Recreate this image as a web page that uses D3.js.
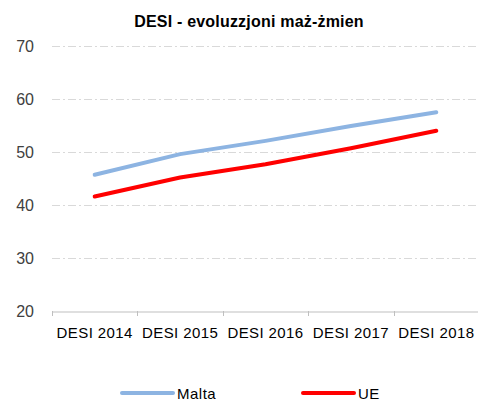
<!DOCTYPE html>
<html>
<head>
<meta charset="utf-8">
<script src="https://cdn.jsdelivr.net/npm/d3@7"></script>
<style>
  body { margin: 0; background: #fff; }
  svg { display: block; font-family: "Liberation Sans", Arial, sans-serif; }
</style>
</head>
<body>
<svg width="478" height="401"></svg>
<script>
const years = ["DESI 2014", "DESI 2015", "DESI 2016", "DESI 2017", "DESI 2018"];
const malta = [45.7, 49.6, 52.1, 54.9, 57.5];
const ue = [41.6, 45.2, 47.7, 50.7, 54.0];
const yTicks = [20, 30, 40, 50, 60, 70];

const series = [
  { name: "Malta", values: malta, color: "#8db4e2" },
  { name: "UE", values: ue, color: "#ff0000" }
];

const svg = d3.select("svg");
const plot = { left: 52, right: 479, top: 46, bottom: 311 };

const x = d3.scaleBand().domain(years).range([plot.left, plot.right]);
const y = d3.scaleLinear().domain([20, 70]).range([plot.bottom, plot.top]);

// title
svg.append("text")
  .attr("x", 249)
  .attr("y", 27)
  .attr("text-anchor", "middle")
  .attr("font-size", "16px")
  .attr("font-weight", "bold")
  .attr("letter-spacing", "0.2px")
  .attr("fill", "#000")
  .text("DESI - evoluzzjoni maż-żmien");

// gridlines
svg.append("g")
  .selectAll("line")
  .data(yTicks.filter(d => d > 20))
  .enter()
  .append("line")
  .attr("x1", plot.left)
  .attr("x2", plot.right)
  .attr("y1", d => y(d) + 0.5)
  .attr("y2", d => y(d) + 0.5)
  .attr("stroke", "#d9d9d9")
  .attr("stroke-width", 1)
  .attr("stroke-dasharray", "8,3,2,3");

// y axis labels
const yAxis = svg.append("g")
  .attr("transform", `translate(${plot.left}, 0)`)
  .call(d3.axisLeft(y).tickValues(yTicks).tickSize(0).tickPadding(18));
yAxis.select(".domain").remove();
yAxis.selectAll("text")
  .attr("font-size", "16px")
  .attr("font-family", "Liberation Sans, Arial, sans-serif")
  .attr("fill", "#404040");

// x axis
const xAxis = svg.append("g")
  .attr("transform", `translate(0, ${plot.bottom + 0.5})`)
  .call(d3.axisBottom(x).tickSize(0).tickPadding(16));
xAxis.select(".domain").attr("stroke", "#bfbfbf");
xAxis.selectAll("text")
  .attr("font-size", "15px")
  .attr("letter-spacing", "0.4px")
  .attr("font-family", "Liberation Sans, Arial, sans-serif")
  .attr("fill", "#000");

// band boundary ticks
svg.append("g")
  .selectAll("line")
  .data(years)
  .enter()
  .append("line")
  .attr("x1", d => Math.round(x(d)) + 0.5)
  .attr("x2", d => Math.round(x(d)) + 0.5)
  .attr("y1", plot.bottom)
  .attr("y2", plot.bottom + 5)
  .attr("stroke", "#bfbfbf");

// lines
const line = d3.line()
  .x((d, i) => x(years[i]) + x.bandwidth() / 2)
  .y(d => y(d));

svg.append("g")
  .selectAll("path")
  .data(series)
  .enter()
  .append("path")
  .attr("d", d => line(d.values))
  .attr("fill", "none")
  .attr("stroke", d => d.color)
  .attr("stroke-width", 4)
  .attr("stroke-linecap", "round")
  .attr("stroke-linejoin", "round");

// legend
const legendX = [122, 303];
const legend = svg.append("g")
  .selectAll("g")
  .data(series)
  .enter()
  .append("g")
  .attr("transform", (d, i) => `translate(${legendX[i]}, 393)`);

legend.append("line")
  .attr("x1", 0)
  .attr("x2", 51)
  .attr("stroke", d => d.color)
  .attr("stroke-width", 4)
  .attr("stroke-linecap", "round");

legend.append("text")
  .attr("x", 55)
  .attr("y", 5.5)
  .attr("font-size", "15px")
  .attr("letter-spacing", "0.5px")
  .attr("fill", "#000")
  .text(d => d.name);
</script>
</body>
</html>
